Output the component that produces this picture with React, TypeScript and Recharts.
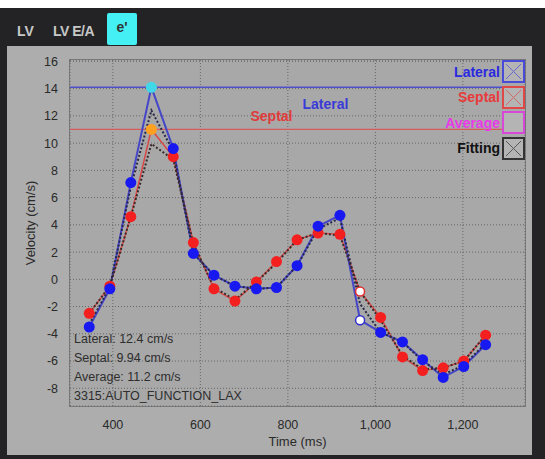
import React from 'react';
import {
  LineChart, Line, XAxis, YAxis, CartesianGrid, ReferenceLine,
} from 'recharts';

// sample times (ms)
const times = [346, 393, 441, 488, 538, 584, 631, 679, 728, 774, 821, 869, 919, 965, 1012, 1062, 1108, 1155, 1202, 1252];

const lateral = [-3.5, -0.7, 7.1, 14.1, 9.6, 1.9, 0.3, -0.5, -0.7, -0.6, 1.0, 3.9, 4.7, -3.0, -3.9, -4.6, -5.9, -7.2, -6.4, -4.8];
const septal = [-2.5, -0.5, 4.6, 11.0, 9.0, 2.7, -0.7, -1.6, -0.2, 1.3, 2.9, 3.4, 3.3, -0.9, -2.8, -5.7, -6.7, -6.5, -6.0, -4.1];
const fitLateral = [-3.3, -0.6, 6.8, 12.4, 9.4, 1.9, 0.3, -0.5, -0.7, -0.6, 1.0, 3.7, 4.5, -1.8, -3.9, -4.6, -6.0, -7.0, -6.3, -4.7];
const fitSeptal = [-2.5, -0.5, 4.6, 9.94, 8.8, 2.6, -0.6, -1.5, -0.2, 1.2, 2.9, 3.4, 3.2, -0.9, -3.0, -5.6, -6.6, -6.5, -6.0, -4.1];

const peakIdx = 3;
const excludedIdx = 13;

const xTicks = [400, 600, 800, 1000, 1200];
const yTicks = [-8, -6, -4, -2, 0, 2, 4, 6, 8, 10, 12, 14, 16];

const readouts = ['Lateral: 12.4 cm/s', 'Septal: 9.94 cm/s', 'Average: 11.2 cm/s', '3315:AUTO_FUNCTION_LAX'];
const legendItems = [
  { name: 'Lateral', color: '#2a2ae0', box: '#4a4ad8', cross: true },
  { name: 'Septal', color: '#e83a3a', box: '#e04848', cross: true },
  { name: 'Average', color: '#e83ae8', box: '#d848d8', cross: false },
  { name: 'Fitting', color: '#111', box: '#333', cross: true },
];

const data = times.map((t, i) => ({
  t,
  lateral: lateral[i],
  septal: septal[i],
  fitLateral: fitLateral[i],
  fitSeptal: fitSeptal[i],
}));

const makeDot = (fill: string, peak: string, stroke: string) => (p: any) => {
  const { cx, cy, index } = p;
  let f = fill;
  if (index === peakIdx) f = peak;
  if (index === excludedIdx) {
    return <circle key={index} cx={cx} cy={cy} r={4.5} fill="#fff" stroke={stroke} strokeWidth={1.5} />;
  }
  return <circle key={index} cx={cx} cy={cy} r={5.5} fill={f} stroke="none" />;
};

const font = '"Liberation Sans", Arial, sans-serif';

export default function App() {
  return (
    <div style={{ position: 'absolute', left: 0, top: 0, width: 545, height: 459, background: '#fff', fontFamily: font, overflow: 'hidden' }}>
      <div style={{ position: 'absolute', left: 0, top: 8, width: 545, height: 451, background: '#232325' }} />
      {/* tabs */}
      <div style={{ position: 'absolute', left: 17, top: 23, color: '#c8c8c8', fontWeight: 700, fontSize: 14 }}>LV</div>
      <div style={{ position: 'absolute', left: 53, top: 23, color: '#c8c8c8', fontWeight: 700, fontSize: 14, letterSpacing: -0.5 }}>LV E/A</div>
      <div style={{ position: 'absolute', left: 107, top: 13, width: 30, height: 32, background: '#44f0f4', borderRadius: 2, color: '#333', fontWeight: 700, fontSize: 14, textAlign: 'center', lineHeight: '28px' }}>e'</div>
      {/* panel + plot background */}
      <div style={{ position: 'absolute', left: 7, top: 46, width: 525, height: 409, background: '#adadad' }} />
      <div style={{ position: 'absolute', left: 69, top: 59, width: 455, height: 346, background: '#a8a8a8', border: '1.5px solid #7a7a7a' }} />
      <div style={{ position: 'absolute', left: 0, top: 0 }}>
        <LineChart width={545} height={459} data={data} margin={{ top: 60, right: 20, bottom: 23, left: 20 }}>
          <CartesianGrid stroke="#666" strokeDasharray="1 2" />
          <XAxis
            dataKey="t"
            type="number"
            domain={[302, 1342]}
            ticks={xTicks}
            tickFormatter={(v: number) => v.toLocaleString('en-US')}
            tick={{ fontSize: 12.5, fill: '#2a2a2a', fontFamily: font }}
            tickLine={false}
            axisLine={false}
            height={30}
            tickMargin={8}
            label={{ value: 'Time (ms)', position: 'insideBottom', offset: -10, fontSize: 13, fill: '#2a2a2a', fontFamily: font }}
          />
          <YAxis
            type="number"
            domain={[-9.3, 16.1]}
            ticks={yTicks}
            allowDataOverflow
            tick={{ fontSize: 12.5, fill: '#2a2a2a', fontFamily: font }}
            tickLine={false}
            axisLine={false}
            width={50}
            tickMargin={6}
            label={{ value: 'Velocity (cm/s)', angle: -90, position: 'insideLeft', offset: 10, dy: -10, fontSize: 13, fill: '#2a2a2a', fontFamily: font, style: { textAnchor: 'middle' } }}
          />
          <ReferenceLine y={lateral[peakIdx]} stroke="#5050cc" strokeWidth={1.5}
            label={{ value: 'Lateral', position: 'center', dx: 28, dy: 17, fill: '#3a3ad8', fontSize: 14, fontWeight: 700, fontFamily: font }} />
          <ReferenceLine y={septal[peakIdx]} stroke="#d85a5a" strokeWidth={1.2}
            label={{ value: 'Septal', position: 'center', dx: -26, dy: -13, fill: '#e03a3a', fontSize: 14, fontWeight: 700, fontFamily: font }} />
          <Line type="linear" dataKey="septal" stroke="#d84848" strokeWidth={1.5} dot={makeDot('#f42020', '#ffa020', '#e03030')} isAnimationActive={false} />
          <Line type="linear" dataKey="lateral" stroke="#4646c8" strokeWidth={2} dot={makeDot('#1818f0', '#40d8e8', '#3030d0')} isAnimationActive={false} />
          <Line type="linear" dataKey="fitLateral" stroke="#26264a" strokeWidth={2} strokeDasharray="2 2" dot={false} isAnimationActive={false} />
          <Line type="linear" dataKey="fitSeptal" stroke="#3a2a2a" strokeWidth={2} strokeDasharray="2 2" dot={false} isAnimationActive={false} />
        </LineChart>
      </div>
      {/* readout text */}
      <div style={{ position: 'absolute', left: 74, top: 330, fontSize: 12.5, color: '#2e2e2e', lineHeight: '19px' }}>
        {readouts.map(r => <div key={r}>{r}</div>)}
      </div>
      {/* legend */}
      <div style={{ position: 'absolute', right: 20, top: 59 }}>
        {legendItems.map(l => (
          <div key={l.name} style={{ display: 'flex', alignItems: 'center', justifyContent: 'flex-end', height: 25.5 }}>
            <span style={{ color: l.color, fontWeight: 700, fontSize: 14, marginRight: 2 }}>{l.name}</span>
            <svg width={23} height={23}>
              <rect x={1} y={1} width={21} height={21} fill="#b4b4b4" stroke={l.box} strokeWidth={2} />
              {l.cross && <path d="M4 4 L19 19 M19 4 L4 19" stroke={l.box} strokeWidth={1} opacity={0.7} />}
            </svg>
          </div>
        ))}
      </div>
    </div>
  );
}
